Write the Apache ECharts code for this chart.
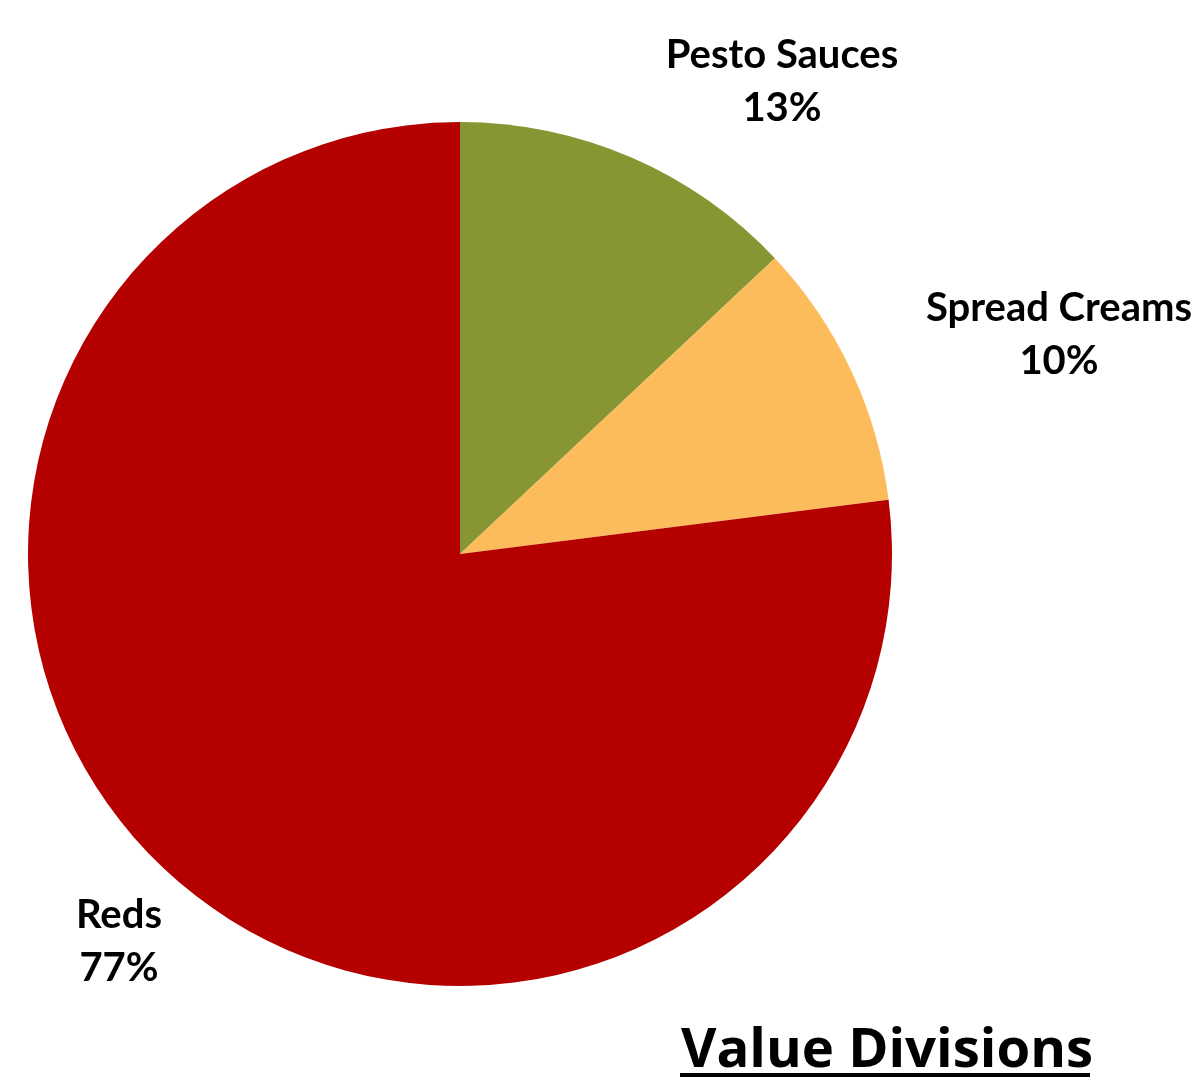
<!DOCTYPE html>
<html>
<head>
<meta charset="utf-8">
<style>
  html, body { margin: 0; padding: 0; background: #ffffff; }
  #chart { width: 1203px; height: 1078px; }
</style>
<script src="https://cdn.jsdelivr.net/npm/echarts@6/dist/echarts.min.js"></script>
</head>
<body>
<div id="chart"></div>
<script>
// Share of value by product line
const categories = ['Pesto Sauces', 'Spread Creams', 'Reds'];
const shares = [13, 10, 77];
const colors = ['#879633', '#FDBC5C', '#B50000'];

// Where each slice's caption sits (centre of the two-line block)
const labelSpots = [[782, 82], [1059, 335], [119, 942]];

const chart = echarts.init(document.getElementById('chart'));

chart.setOption({
  animation: false,
  backgroundColor: '#ffffff',
  title: {
    text: 'Value Divisions',
    left: 676,
    top: 1019,
    itemGap: 0,
    textStyle: {
      fontFamily: 'Open Sans',
      fontWeight: 'bold',
      fontSize: 54.5,
      color: '#000000'
    }
  },
  graphic: [{
    type: 'rect',
    shape: { x: 680, y: 1073, width: 410, height: 4 },
    style: { fill: '#000000' }
  }],
  series: [{
    type: 'pie',
    center: [460, 554],
    radius: 432,
    startAngle: 90,
    clockwise: true,
    silent: true,
    itemStyle: { borderWidth: 0 },
    label: {
      show: true,
      position: 'outside',
      formatter: function (p) { return p.name + '\n' + p.value + '%'; },
      fontFamily: 'Lato',
      fontWeight: 'bold',
      fontSize: 40,
      lineHeight: 53,
      color: '#000000',
      align: 'center'
    },
    labelLine: { show: false },
    labelLayout: function (params) {
      const s = labelSpots[params.dataIndex];
      return { x: s[0], y: s[1], align: 'center', verticalAlign: 'middle' };
    },
    data: categories.map(function (name, i) {
      return { name: name, value: shares[i], itemStyle: { color: colors[i] } };
    })
  }]
});
</script>
</body>
</html>
